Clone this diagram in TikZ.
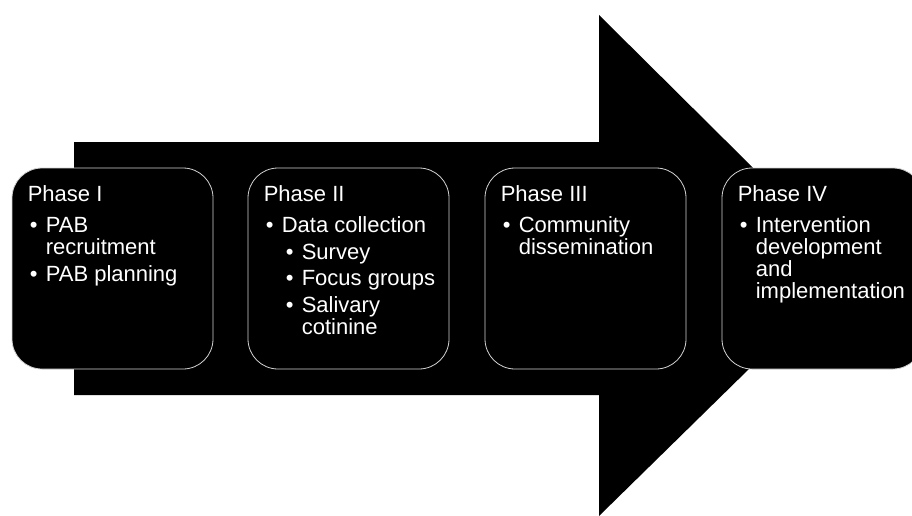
\documentclass[tikz,border=0pt]{standalone}
\usepackage{fontspec}
\setmainfont{Liberation Sans}
\usetikzlibrary{calc}

\newcommand{\itm}[1]{\hspace*{2pt}\makebox[16pt][l]{\textbullet}#1}
\newcommand{\cnt}[1]{\hspace*{18pt}#1}
\newcommand{\sitm}[1]{\hspace*{22pt}\makebox[16pt][l]{\textbullet}#1}
\newcommand{\scnt}[1]{\hspace*{38pt}#1}

\begin{document}
\begin{tikzpicture}[x=1pt, y=-1pt,
      font=\fontsize{22}{22}\selectfont,
      phase/.style={draw=gray!35, line width=0.8pt, fill=black, rounded corners=30pt,
                    minimum width=201pt, minimum height=201pt, inner sep=0pt},
      txt/.style={text=white, align=left, anchor=north west, inner sep=0pt}]
      \useasboundingbox (0,0) rectangle (912,516);
      % big arrow behind the phases
      \fill[black] (74,142) -- (599,142) -- (599,15) -- (853,267) -- (599,516) -- (599,395) -- (74,395) -- cycle;
      \node[phase] (p1) at (112.5,268.5) {};
      \node[phase] (p2) at (348.5,268.5) {};
      \node[phase] (p3) at (585.5,268.5) {};
      \node[phase] (p4) at (822.5,268.5) {};
      \node[txt] (t1) at ($(p1.north west)+(16,18)$)
            {Phase I\\[9pt]\itm{PAB}\\\cnt{recruitment}\\[4.5pt]\itm{PAB planning}};
      \node[txt] (t2) at ($(p2.north west)+(16,18)$)
            {Phase II\\[9pt]\itm{Data collection}\\[4.5pt]\sitm{Survey}\\[4.5pt]\sitm{Focus groups}\\[4.5pt]\sitm{Salivary}\\\scnt{cotinine}};
      \node[txt] (t3) at ($(p3.north west)+(16,18)$)
            {Phase III\\[9pt]\itm{Community}\\\cnt{dissemination}};
      \node[txt] (t4) at ($(p4.north west)+(16,18)$)
            {Phase IV\\[9pt]\itm{Intervention}\\\cnt{development}\\\cnt{and}\\\cnt{implementation}};
    \end{tikzpicture}
\end{document}
